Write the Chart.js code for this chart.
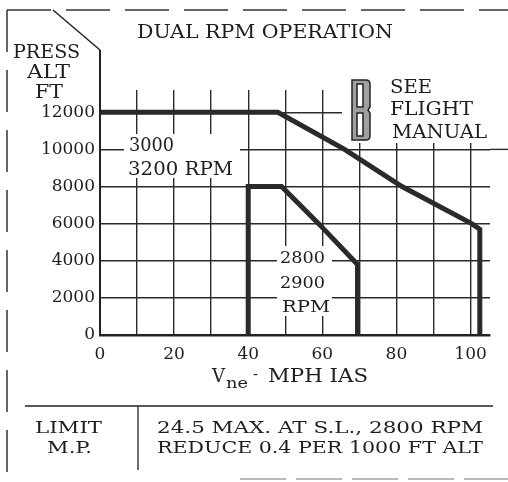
<!DOCTYPE html>
<html>
<head>
<meta charset="utf-8">
<script src="https://cdn.jsdelivr.net/npm/chart.js@4.4.1/dist/chart.umd.min.js"></script>
<style>
  html, body { margin: 0; padding: 0; background: #fff; }
  #wrap { width: 508px; height: 482px; }
</style>
</head>
<body>
<div id="wrap"><canvas id="vneChart" width="508" height="482"></canvas></div>
<script>
// Vne limits (speed in MPH IAS, altitude in ft)
const highRpmSpeed = [0, 48, 66, 81.5, 100.3, 102.5, 102.5];
const highRpmAlt   = [12000, 12000, 10000, 8000, 6000, 5700, 0];
const lowRpmSpeed  = [40, 40, 49, 59, 69.5, 69.5];
const lowRpmAlt    = [0, 8000, 8000, 6000, 3800, 0];

// grid positions and which of them carry a label
const speedGrid  = [0, 10, 20, 30, 40, 50, 60, 70, 80, 90, 100];
const speedTicks = [0, 20, 40, 60, 80, 100];
const altTicks   = [0, 2000, 4000, 6000, 8000, 10000, 12000];

const titleText    = 'DUAL RPM OPERATION';
const yTitle       = ['PRESS', 'ALT', 'FT'];
const highRpmLabel = ['3000', '3200 RPM'];
const lowRpmLabel  = ['2800', '2900', 'RPM'];
const noteLabel    = ['SEE', 'FLIGHT', 'MANUAL'];
const limitHead    = ['LIMIT', 'M.P.'];
const limitText    = ['24.5 MAX. AT S.L., 2800 RPM', 'REDUCE 0.4 PER 1000 FT ALT'];

const INK = '#1e1e1e';
const SERIF = "'DejaVu Serif', serif";

const toPoints = (xs, ys) => xs.map((x, i) => ({ x: x, y: ys[i] }));

// draws text stretched to a given width (placard font is wider than DejaVu)
function fit(ctx, text, x, y, w, size) {
    ctx.save();
    ctx.font = size + 'px ' + SERIF;
    ctx.textAlign = 'left';
    ctx.textBaseline = 'alphabetic';
    const m = ctx.measureText(text).width;
    ctx.translate(x, y);
    ctx.scale(w / m, 1);
    ctx.fillStyle = INK;
    ctx.fillText(text, 0, 0);
    ctx.restore();
}

function line(ctx, pts, width, color, dash) {
    ctx.save();
    ctx.beginPath();
    ctx.moveTo(pts[0][0], pts[0][1]);
    for (let i = 1; i < pts.length; i++) ctx.lineTo(pts[i][0], pts[i][1]);
    ctx.lineWidth = width;
    ctx.strokeStyle = color;
    ctx.setLineDash(dash || []);
    ctx.stroke();
    ctx.restore();
}

const placard = {
    id: 'placard',
    beforeDatasetsDraw(chart) {
        const ctx = chart.ctx;
        // blank out the grid behind the in-chart labels
        ctx.save();
        ctx.fillStyle = '#fff';
        ctx.fillRect(124, 134, 116, 44);
        ctx.fillRect(277, 246, 55, 70);
        ctx.fillRect(342, 74, 160, 69);
        ctx.restore();

        // 10000 ft line runs on past the axis end
        const y10 = chart.scales.y.getPixelForValue(10000);
        line(ctx, [[chart.chartArea.right, y10], [508, y10]], 1.4, '#2a2a2a');
    },
    afterDatasetsDraw(chart) {
        const ctx = chart.ctx;
        const x0 = chart.scales.x.getPixelForValue(0);
        const yBottom = chart.scales.y.getPixelForValue(0);

        // frame: dashed top and left edges, clipped corner, y axis
        line(ctx, [[7, 10], [508, 10]], 1.5, '#333', [44, 15]);
        line(ctx, [[7, 10], [7, 482]], 1.5, '#333', [42, 18]);
        line(ctx, [[53, 10], [x0, 50]], 1.5, '#222');
        line(ctx, [[x0, 50], [x0, yBottom]], 2, '#222');

        fit(ctx, titleText, 137, 38, 256, 18);
        fit(ctx, yTitle[0], 13, 58, 67, 18);
        fit(ctx, yTitle[1], 27, 78, 43, 18);
        fit(ctx, yTitle[2], 35, 98, 28, 18);

        fit(ctx, highRpmLabel[0], 129, 151, 45, 18);
        fit(ctx, highRpmLabel[1], 128, 175, 105, 18);

        fit(ctx, lowRpmLabel[0], 280, 263, 45, 17);
        fit(ctx, lowRpmLabel[1], 280, 288, 45, 17);
        fit(ctx, lowRpmLabel[2], 282, 312, 48, 17);

        // big outlined "B" placard mark
        const bx0 = 352, bx1 = 370, by0 = 80, by1 = 140, bym = 110;
        ctx.save();
        ctx.beginPath();
        ctx.moveTo(bx0, by0);
        ctx.lineTo(bx1 - 4, by0);
        ctx.quadraticCurveTo(bx1, by0, bx1, by0 + 4);
        ctx.lineTo(bx1, bym - 3);
        ctx.lineTo(bx1 - 2, bym);
        ctx.lineTo(bx1, bym + 3);
        ctx.lineTo(bx1, by1 - 4);
        ctx.quadraticCurveTo(bx1, by1, bx1 - 4, by1);
        ctx.lineTo(bx0, by1);
        ctx.closePath();
        ctx.rect(bx0 + 5, by0 + 4, 6, bym - by0 - 7);
        ctx.rect(bx0 + 5, bym + 3, 6, by1 - bym - 7);
        ctx.fillStyle = '#a0a0a0';
        ctx.fill('evenodd');
        ctx.lineWidth = 1.5;
        ctx.strokeStyle = '#222';
        ctx.stroke();
        ctx.restore();

        fit(ctx, noteLabel[0], 390, 93, 42, 18);
        fit(ctx, noteLabel[1], 390, 115, 83, 18);
        fit(ctx, noteLabel[2], 392, 138, 95, 18);

        // x axis title: V subscript ne
        fit(ctx, 'V', 212, 382, 13, 18);
        fit(ctx, 'ne', 226, 388, 22, 15);
        fit(ctx, '-', 253, 379, 5, 15);
        fit(ctx, 'MPH IAS', 268, 382, 100, 18);

        // limit manifold pressure table
        line(ctx, [[25, 406], [493, 406]], 1.6, '#222');
        line(ctx, [[138, 406], [138, 470]], 1.4, '#333');
        line(ctx, [[240, 479], [508, 479]], 1.2, '#777', [46, 10]);
        fit(ctx, limitHead[0], 35, 433, 67, 16);
        fit(ctx, limitHead[1], 47, 453, 45, 16);
        fit(ctx, limitText[0], 157, 433, 326, 16);
        fit(ctx, limitText[1], 157, 453, 326, 16);
    }
};

const gridColor = '#2a2a2a';

new Chart(document.getElementById('vneChart'), {
    type: 'line',
    data: {
        datasets: [
            {
                data: toPoints(highRpmSpeed, highRpmAlt),
                borderColor: '#2a2a2a', borderWidth: 5
            },
            {
                data: toPoints(highRpmSpeed, highRpmAlt),
                borderColor: '#9a9a9a', borderWidth: 1.8
            },
            {
                data: toPoints(lowRpmSpeed, lowRpmAlt),
                borderColor: '#2a2a2a', borderWidth: 5
            },
            {
                data: toPoints(lowRpmSpeed, lowRpmAlt),
                borderColor: '#9a9a9a', borderWidth: 1.8
            }
        ]
    },
    options: {
        responsive: false,
        animation: false,
        events: [],
        layout: { padding: { top: 90, right: 18, left: 0, bottom: 0 } },
        elements: {
            point: { radius: 0 },
            line: { tension: 0, fill: false, borderJoinStyle: 'miter', borderCapStyle: 'butt' }
        },
        plugins: {
            legend: { display: false },
            tooltip: { enabled: false },
            title: { display: false }
        },
        scales: {
            x: {
                type: 'linear',
                min: 0,
                max: 105.25,
                afterFit: (scale) => { scale.height = 147; },
                afterBuildTicks: (scale) => { scale.ticks = speedGrid.map(v => ({ value: v })); },
                grid: { color: gridColor, lineWidth: 1.4, drawTicks: false },
                border: { display: true, color: '#222', width: 2.5 },
                ticks: {
                    padding: 9,
                    maxRotation: 0,
                    autoSkip: false,
                    color: INK,
                    font: { family: SERIF, size: 17 },
                    callback: (v) => speedTicks.includes(v) ? String(v) : ''
                }
            },
            y: {
                type: 'linear',
                min: 0,
                max: 13200,
                afterFit: (scale) => { scale.width = 100; },
                afterBuildTicks: (scale) => { scale.ticks = altTicks.map(v => ({ value: v })); },
                grid: { color: gridColor, lineWidth: 1.4, drawTicks: false },
                border: { display: false },
                ticks: {
                    autoSkip: false,
                    padding: 5,
                    color: INK,
                    font: { family: SERIF, size: 17 },
                    callback: (v) => String(v)
                }
            }
        }
    },
    plugins: [placard]
});
</script>
</body>
</html>
